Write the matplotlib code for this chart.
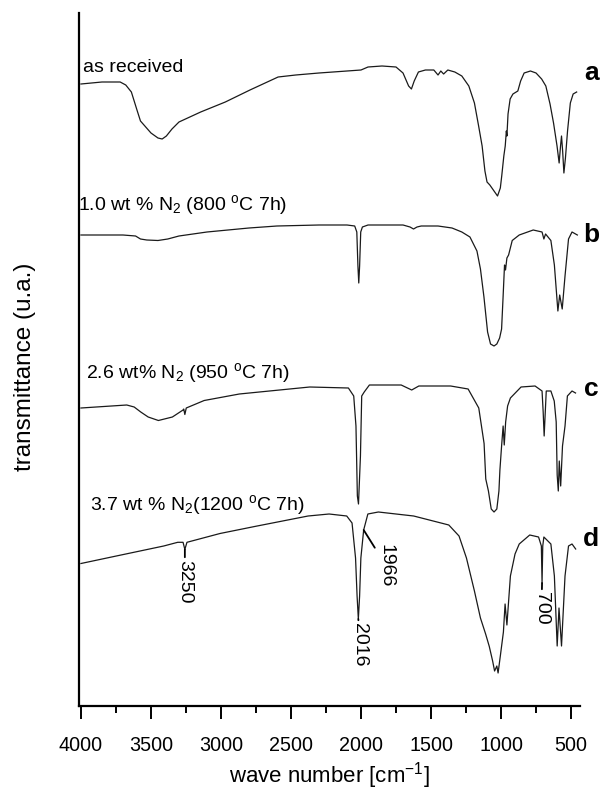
import matplotlib
matplotlib.use('Agg')
import matplotlib.pyplot as plt
from matplotlib.ticker import MultipleLocator

plt.rcParams['font.family'] = ['Liberation Sans', 'DejaVu Sans']
plt.rcParams['mathtext.fontset'] = 'custom'
plt.rcParams['mathtext.rm'] = 'Liberation Sans'
plt.rcParams['mathtext.it'] = 'Liberation Sans:italic'

# spectra (wave number, transmittance in arbitrary units)
wn_a = [4000, 3850, 3720, 3680, 3640, 3600, 3575, 3550, 3500, 3450, 3420, 3390, 3350, 3300,
        3145, 2969, 2793, 2592, 2466, 2300, 2200, 2000, 1950, 1850, 1750, 1700, 1660, 1640, 1620,
        1590, 1540, 1480, 1450, 1430, 1410, 1380, 1330, 1280, 1230, 1190, 1160, 1135, 1115,
        1100, 1080, 1050, 1025, 1005, 995, 980, 970, 962, 958, 950, 935, 915, 880, 860, 835,
        790, 750, 710, 680, 650, 625, 600, 585, 575, 568, 560, 551, 540, 525, 505, 485, 460]
t_a = [622, 624, 624, 621, 614, 596, 585, 581, 573, 568, 567, 570, 577, 584,
       594, 604, 616, 629, 631, 633, 634, 636, 639, 640, 639, 633, 620, 617, 625,
       634, 636, 636, 631, 635, 632, 636, 634, 630, 620, 603, 580, 560, 535,
       524, 521, 515, 510, 518, 530, 550, 560, 575, 570, 592, 607, 612, 615, 625, 633,
       635, 633, 627, 620, 602, 583, 560, 543, 560, 570, 555, 533, 548, 575, 603, 612, 614]

wn_b = [4000, 3700, 3610, 3575, 3530, 3450, 3380, 3300, 3100, 2800, 2600, 2300, 2100, 2045,
        2030, 2022, 2016, 2010, 2002, 1990, 1950, 1800, 1700, 1650, 1625, 1600, 1570, 1450,
        1350, 1280, 1222, 1172, 1147, 1122, 1096, 1075, 1050, 1030, 1010, 996, 985, 975,
        968, 958, 946, 920, 870, 770, 707, 694, 682, 644, 619, 594, 581, 563, 543, 518, 493, 455]
t_b = [471, 471, 470, 467, 466, 465.5, 467, 470, 474, 478, 480, 481, 481, 480,
       474, 440, 423, 440, 474, 479, 481, 481, 481, 479, 477, 479, 480, 480,
       478, 474, 469, 455, 437, 409, 374, 362, 360, 362, 368, 377, 410, 441,
       436, 448, 451, 465.5, 471, 476, 474, 467, 472, 465.5, 441, 395, 411, 397, 430, 467, 474, 471]

wn_c = [4000, 3673, 3620, 3573, 3520, 3447, 3347, 3271, 3266, 3258, 3248, 3120, 2869, 2366, 2090, 2052,
        2036, 2026, 2018, 2004, 1995, 1977, 1940, 1713, 1638, 1587, 1360, 1235, 1159, 1121,
        1109, 1090, 1070, 1050, 1030, 1015, 1008, 996, 985, 977, 967, 953, 933, 857, 757,
        707, 699, 692, 684, 677, 644, 620, 606, 599, 591, 584, 574, 561, 543, 526, 493, 468]
t_c = [298, 301, 299, 294, 289, 285.5, 289, 296, 297, 291.5, 298, 305.5, 312, 319, 318, 310,
       280, 210, 202, 250, 310, 314, 321, 321, 316, 320, 320, 317, 298, 262.5,
       227, 215, 197, 194, 197, 215, 236, 260, 280, 261, 284, 300, 308, 319, 320,
       315, 294, 270, 294, 315, 315, 305, 284, 231, 215, 245, 220, 260, 280, 310, 315, 313]

wn_d = [4000, 3761, 3409, 3309, 3271, 3258, 3243, 3007, 2756, 2378, 2228, 2102, 2064, 2039,
        2028, 2019, 2010, 2001, 1981, 1951, 1876, 1624, 1373, 1300, 1247, 1190, 1147, 1110,
        1084, 1060, 1046, 1030, 1021, 1005, 983, 971, 958, 933, 900, 870, 795, 732,
        712, 707, 702, 694, 644, 619, 599, 586, 568, 543, 518, 493, 467]
t_d = [142.5, 149.6, 160, 163.7, 163.7, 156.6, 163.7, 172.5, 179.6, 190, 192, 190, 183, 148,
       110, 87, 110, 148, 176, 192, 194, 190, 181, 170, 148, 115, 88, 72,
       59.6, 45, 35, 40, 33, 50, 74, 102, 81, 130, 152, 162, 171, 169,
       160, 123, 160, 169, 162, 130, 60, 98, 60, 130, 160, 162, 157]

wn_list = [wn_a, wn_b, wn_c, wn_d]
t_list = [t_a, t_b, t_c, t_d]
letters = ['a', 'b', 'c', 'd']
letter_h = [633, 471, 317, 167]
samples = ['as received',
           r'1.0 wt % N$_2$ (800 $^{\rm o}$C 7h)',
           r'2.6 wt% N$_2$ (950 $^{\rm o}$C 7h)',
           r'3.7 wt % N$_2$(1200 $^{\rm o}$C 7h)']
sample_x = [3986, 4021, 3964, 3936]
sample_h = [639, 501, 333, 201]

# peak marks on spectrum d
peak_labels = ['3250', '2016', '1966', '700']
peak_wn = [3258, 2019, 1981, 707]
peak_h = [156.6, 87, 176, 123]
text_wn = [3258, 2010, 1821, 711]
text_h = [146, 83, 162, 114]

fig = plt.figure(figsize=(6.13, 7.95), dpi=100)
ax = fig.add_axes([79 / 613, 89 / 795, 501 / 613, 693 / 795])

for wn, t in zip(wn_list, t_list):
    ax.plot(wn, t, color='#1a1a1a', lw=0.9)

for s, x, h in zip(samples, sample_x, sample_h):
    ax.text(x, h, s, fontsize=14, ha='left', va='center')

for l, h in zip(letters, letter_h):
    ax.text(355, h, l, fontsize=19, fontweight='bold', ha='center', va='center', clip_on=False)

for lab, pw, ph, tw, th in zip(peak_labels, peak_wn, peak_h, text_wn, text_h):
    ax.annotate(lab, xy=(pw, ph), xytext=(tw, th), rotation=-90, fontsize=14,
                ha='center', va='top',
                arrowprops=dict(arrowstyle='-', lw=1.3, color='black', shrinkA=0, shrinkB=0))

ax.set_xlim(4014, 436)
ax.set_ylim(0, 693)
ax.xaxis.set_major_locator(MultipleLocator(500))
ax.xaxis.set_minor_locator(MultipleLocator(250))
ax.set_yticks([])
ax.spines['top'].set_visible(False)
ax.spines['right'].set_visible(False)
ax.spines['left'].set_linewidth(1.6)
ax.spines['bottom'].set_linewidth(1.6)
ax.tick_params(axis='x', which='major', direction='out', length=9.5, width=1.4, pad=12, labelsize=14.2)
ax.tick_params(axis='x', which='minor', direction='out', length=5, width=1.4)

ax.set_xlabel('wave number [cm$^{-1}$]', fontsize=16, labelpad=4)
ax.set_ylabel('transmittance (u.a.)', fontsize=17.5, va='center')
ax.yaxis.set_label_coords(-0.108, 0.49)

fig.savefig('out.png', dpi=100)
